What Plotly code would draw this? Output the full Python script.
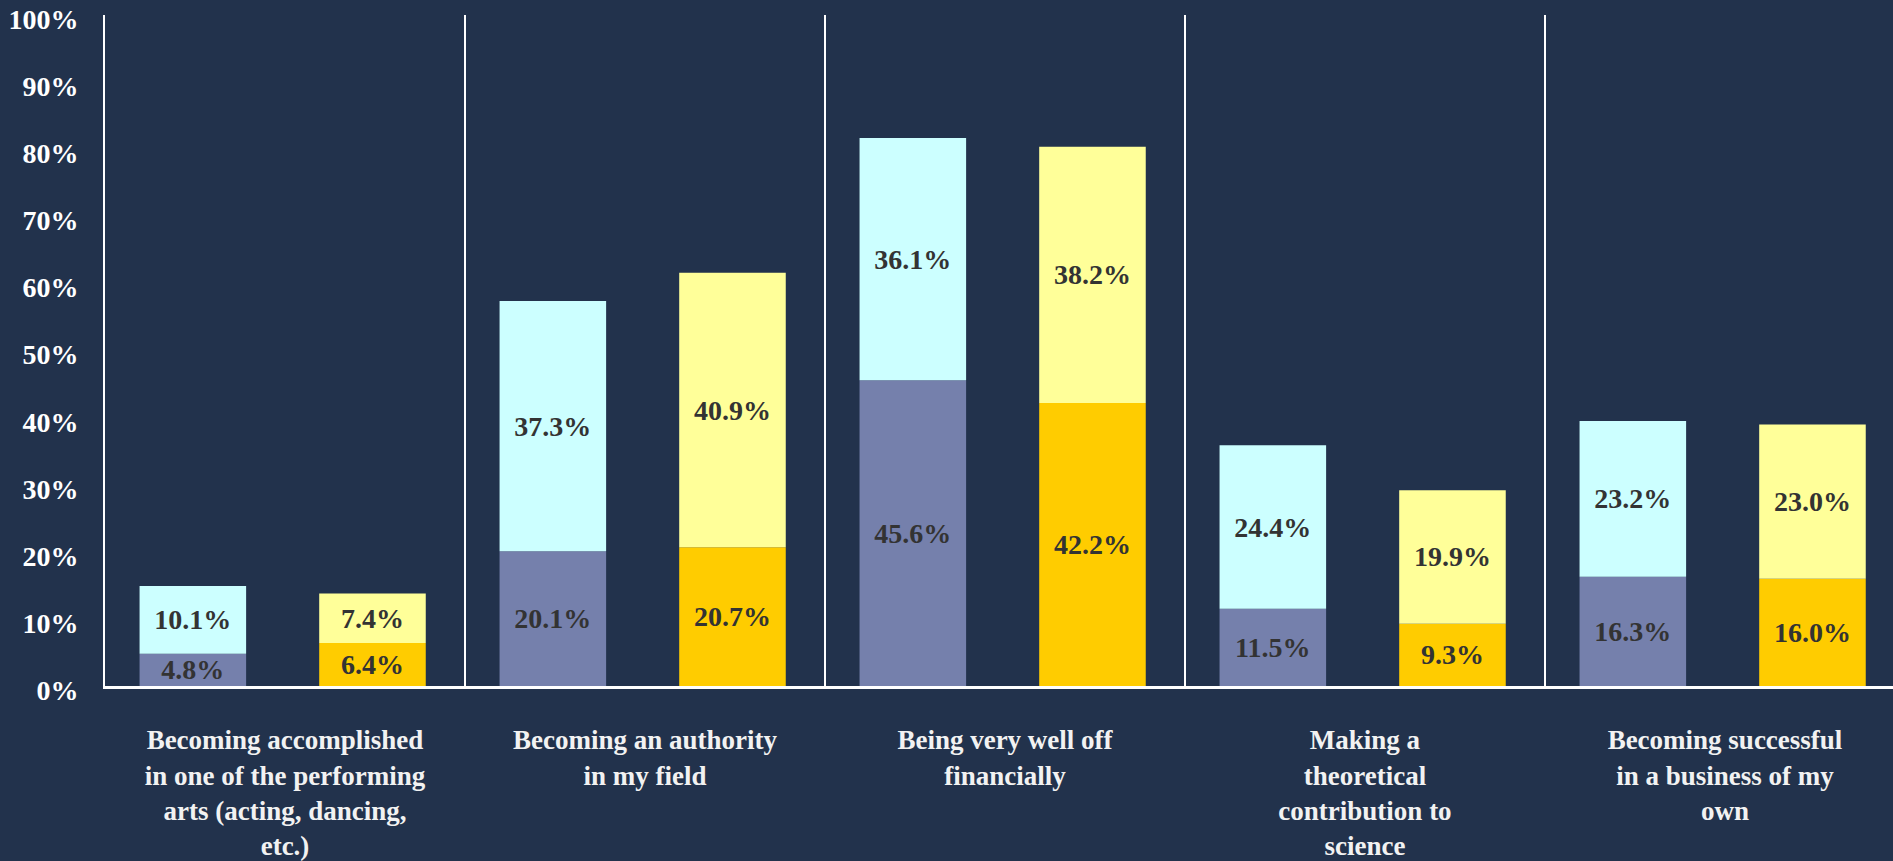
import plotly.graph_objects as go

categories = [
    "Becoming accomplished<br>in one of the performing<br>arts (acting, dancing,<br>etc.)",
    "Becoming an authority<br>in my field",
    "Being very well off<br>financially",
    "Making a<br>theoretical<br>contribution to<br>science",
    "Becoming successful<br>in a business of my<br>own",
]
blue_bottom = [4.8, 20.1, 45.6, 11.5, 16.3]
blue_top = [10.1, 37.3, 36.1, 24.4, 23.2]
yellow_bottom = [6.4, 20.7, 42.2, 9.3, 16.0]
yellow_top = [7.4, 40.9, 38.2, 19.9, 23.0]
y_ticks = [0, 10, 20, 30, 40, 50, 60, 70, 80, 90, 100]
y_tick_labels = [f"{t}%" for t in y_ticks]

BG = "#22324C"
LABEL_FONT = dict(family="Liberation Serif", size=28, color="#333333", weight="bold")
BAR_W = 0.296
BLUE_OFF = -0.404
YEL_OFF = 0.095


def frac(v):
    return [x / 100 for x in v]


def txt(v):
    return [f"{x:.1f}%" for x in v]


fig = go.Figure()
fig.add_trace(go.Bar(x=categories, y=frac(blue_bottom), marker_color="#7580AC",
                     offset=BLUE_OFF, width=BAR_W, text=txt(blue_bottom)))
fig.add_trace(go.Bar(x=categories, y=frac(blue_top), base=frac(blue_bottom), marker_color="#CCFFFF",
                     offset=BLUE_OFF, width=BAR_W, text=txt(blue_top)))
fig.add_trace(go.Bar(x=categories, y=frac(yellow_bottom), marker_color="#FFCC00",
                     offset=YEL_OFF, width=BAR_W, text=txt(yellow_bottom)))
fig.add_trace(go.Bar(x=categories, y=frac(yellow_top), base=frac(yellow_bottom), marker_color="#FFFF99",
                     offset=YEL_OFF, width=BAR_W, text=txt(yellow_top)))

fig.update_traces(textposition="inside", insidetextanchor="middle", textangle=0,
                  textfont=LABEL_FONT, marker_line_width=0, hoverinfo="skip")

fig.update_layout(
    width=1893, height=861,
    barmode="overlay",
    showlegend=False,
    paper_bgcolor=BG, plot_bgcolor=BG,
    margin=dict(l=105, r=0, t=15, b=172),
    uniformtext=dict(minsize=28, mode="show"),
    xaxis=dict(
        type="category",
        range=[-0.5, 4.4667],
        tickson="boundaries",
        showgrid=True, gridcolor="#FFFFFF", gridwidth=2,
        showline=True, linecolor="#FFFFFF", linewidth=3,
        ticks="", ticklabelstandoff=28,
        tickfont=dict(family="Liberation Serif", size=27, color="#F2F2F2", weight="bold"),
        zeroline=False,
    ),
    yaxis=dict(
        range=[0, 1.0005],
        tickmode="array", tickvals=frac(y_ticks), ticktext=y_tick_labels,
        showgrid=False, zeroline=False,
        showline=True, linecolor="#FFFFFF", linewidth=2,
        ticks="", ticklabelstandoff=19, ticklabelshift=4,
        tickfont=dict(family="Liberation Serif", size=28, color="#FFFFFF", weight="bold"),
    ),
)

fig.write_html(
    "out.html",
    config={"displayModeBar": False},
    post_script="document.body.style.margin='0';document.body.style.padding='0';"
                "document.body.style.overflow='hidden';document.body.style.background='" + BG + "';",
)
